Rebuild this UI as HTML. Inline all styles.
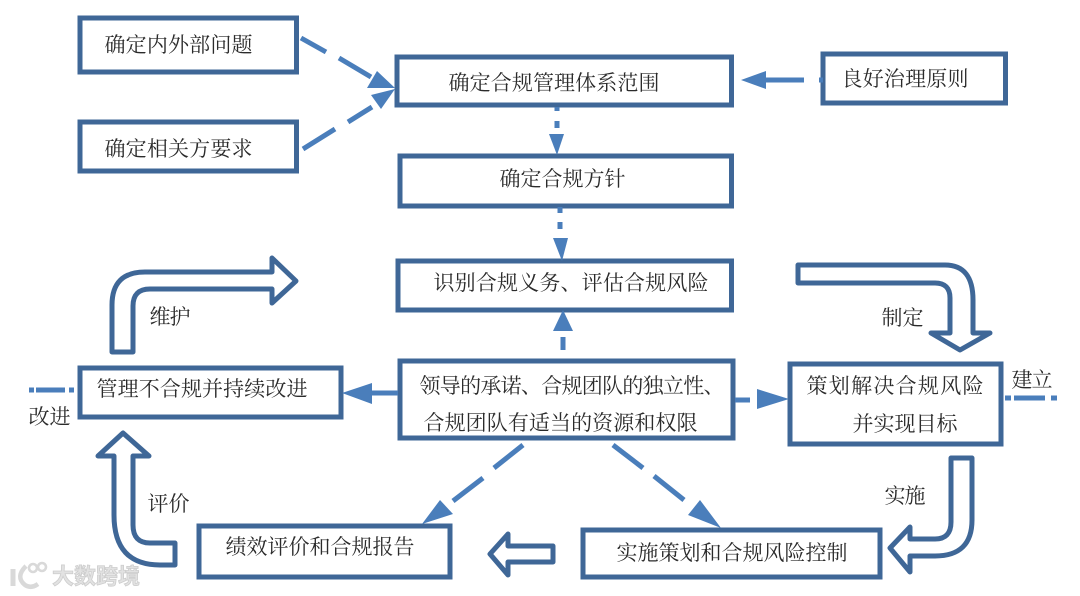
<!DOCTYPE html>
<html lang="zh">
<head>
<meta charset="utf-8">
<style>
html,body{margin:0;padding:0;background:#fff;width:1080px;height:596px;overflow:hidden}
svg{display:block}
text{font-family:"Liberation Serif","Noto Serif CJK SC",serif;font-size:21px;fill:#2b2b2b}
.b{fill:#fff;stroke:#3f6797;stroke-width:5}
.a{fill:#fff;stroke:#3f6797;stroke-width:5;stroke-linejoin:round}
.l{stroke:#4a7ebb;stroke-width:5;fill:none}
.h{fill:#4a7ebb}
.w{font-family:"Liberation Sans","Noto Sans CJK SC",sans-serif;font-size:22px;font-weight:700;fill:#e2e2e2;stroke:#cdcdcd;stroke-width:.8}
.s{filter:blur(.35px)}
</style>
</head>
<body>
<svg width="1080" height="596" viewBox="0 0 1080 596" xmlns="http://www.w3.org/2000/svg">
<rect width="1080" height="596" fill="#fff"/>
<g class="s">
<!-- boxes -->
<rect class="b" x="80" y="18" width="216.500" height="54"/>
<rect class="b" x="80" y="122" width="216.500" height="49"/>
<rect class="b" x="397" y="57" width="334.500" height="48"/>
<rect class="b" x="823" y="54" width="182.500" height="49"/>
<rect class="b" x="400" y="156" width="331.500" height="50"/>
<rect class="b" x="398" y="261" width="333.500" height="49"/>
<rect class="b" x="400" y="361" width="333" height="77"/>
<rect class="b" x="790" y="364" width="211" height="80"/>
<rect class="b" x="80" y="368" width="261" height="49"/>
<rect class="b" x="199" y="526" width="251" height="51"/>
<rect class="b" x="583" y="530" width="297" height="47"/>

<!-- block arrows -->
<path class="a" d="M112 352V305Q112 272 145 272H272V258L296 281L272 303V289H150Q133 289 133 306V352Z"/>
<path class="a" d="M123 433L149 456H133V525Q133 543 150 543H175V565H160Q114 565 114 515V456H98Z"/>
<path class="a" d="M798 265H945Q973 265 973 300V333H990L960 350L931 333H950V298Q950 283 935 283H798Z"/>
<path class="a" d="M951 458H972V520Q972 556 935 556H910V572L890 548L910 527V539H935Q951 539 951 522Z"/>
<path class="a" d="M490 554L508 534V546H553V562H508V575Z"/>

<!-- connectors -->
<path class="l" d="M301 38L326 52M339 58L371 77"/>
<polygon class="h" points="395,88 377,71 367,88"/>
<path class="l" d="M303 149L335 129M348 122L372 107"/>
<polygon class="h" points="395,89 371,95 381,109"/>
<path class="l" d="M766 80H804M819 80H823"/>
<polygon class="h" points="741,80 766,71 766,89"/>
<path class="l" d="M557 107V111M557 121V128"/>
<polygon class="h" points="549,134 564,134 557,155"/>
<path class="l" d="M560 207V213M560 222V229"/>
<polygon class="h" points="553,238 568,238 562,261"/>
<path class="l" d="M563 337V350"/>
<polygon class="h" points="563,310 573,331 553,331"/>
<path class="l" d="M372 393H398"/>
<polygon class="h" points="342,393 372,383 372,404"/>
<path class="l" d="M735 400H750"/>
<polygon class="h" points="789,399 757,389 757,409"/>
<path class="l" d="M523 445L494 468M483 478L453 501"/>
<polygon class="h" points="422,524 440,500 453,514"/>
<path class="l" d="M613 445L643 468M654 476L684 500"/>
<polygon class="h" points="721,528 700,500 688,515"/>
<path class="l" d="M29 390H34M36 390H65M69 390H74"/>
<path class="l" d="M1005 398H1011M1014 398H1045M1051 398H1057"/>

<!-- labels -->
<g transform="translate(.5 1)">
<text x="104" y="51" textLength="148" lengthAdjust="spacing">确定内外部问题</text>
<text x="104" y="155" textLength="148" lengthAdjust="spacing">确定相关方要求</text>
<text x="448" y="89" textLength="211" lengthAdjust="spacing">确定合规管理体系范围</text>
<text x="841" y="85" textLength="127" lengthAdjust="spacing">良好治理原则</text>
<text x="499" y="185" textLength="126" lengthAdjust="spacing">确定合规方针</text>
<text x="433" y="289" textLength="275" lengthAdjust="spacing">识别合规义务、评估合规风险</text>
<text x="96" y="395" textLength="211" lengthAdjust="spacing">管理不合规并持续改进</text>
<text x="419" y="392" textLength="305" lengthAdjust="spacing">领导的承诺、合规团队的独立性、</text>
<text x="423" y="429" textLength="274" lengthAdjust="spacing">合规团队有适当的资源和权限</text>
<text x="806" y="392" textLength="177" lengthAdjust="spacing">策划解决合规风险</text>
<text x="852" y="430" textLength="105" lengthAdjust="spacing">并实现目标</text>
<text x="225" y="553" textLength="189" lengthAdjust="spacing">绩效评价和合规报告</text>
<text x="616" y="559" textLength="231" lengthAdjust="spacing">实施策划和合规风险控制</text>
<text x="149" y="323" textLength="41" lengthAdjust="spacing">维护</text>
<text x="147" y="510" textLength="42" lengthAdjust="spacing">评价</text>
<text x="28" y="423" textLength="42" lengthAdjust="spacing">改进</text>
<text x="881" y="324" textLength="42" lengthAdjust="spacing">制定</text>
<text x="1011" y="386" textLength="41" lengthAdjust="spacing">建立</text>
<text x="884" y="502" textLength="41" lengthAdjust="spacing">实施</text>
</g>

<!-- watermark -->
<g fill="none" stroke="#d9d9d9">
<path d="M13 569V586" stroke-width="5"/>
<path d="M26 566Q15 577 25 585Q31 589 38 584" stroke-width="4.5"/>
<circle cx="33" cy="568" r="4" stroke-width="2.6"/>
<circle cx="42" cy="567" r="4" stroke-width="2.6"/>
</g>
<text class="w" x="52" y="584" textLength="88" lengthAdjust="spacing">大数跨境</text>
</g>
</svg>
</body>
</html>
